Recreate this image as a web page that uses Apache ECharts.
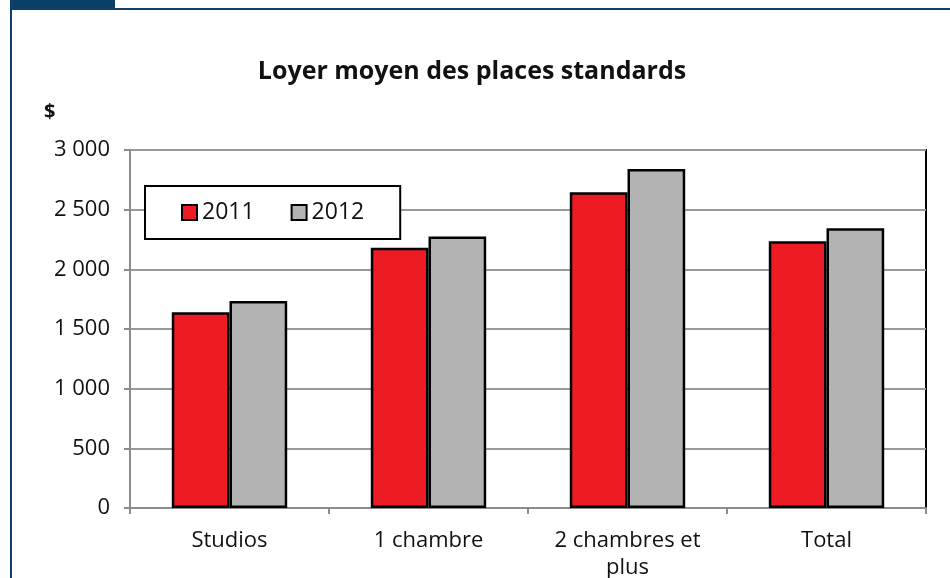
<!DOCTYPE html>
<html>
<head>
<meta charset="utf-8">
<script src="https://cdn.jsdelivr.net/npm/echarts@6/dist/echarts.min.js"></script>
<style>
  html, body { margin: 0; padding: 0; background: #fff; }
  #chart { width: 950px; height: 578px; }
</style>
</head>
<body>
<div id="chart"></div>
<script>
// données
var categories = ['Studios', '1 chambre', '2 chambres et\nplus', 'Total'];
var loyer2011 = [1640, 2180, 2645, 2235];
var loyer2012 = [1735, 2275, 2840, 2345];
var seriesNames = ['2011', '2012'];

var police = 'Open Sans';
var chart = echarts.init(document.getElementById('chart'));

chart.setOption({
  animation: false,
  backgroundColor: '#fff',
  title: {
    text: 'Loyer moyen des places standards',
    left: 467,
    textAlign: 'center',
    top: 54,
    textStyle: { fontFamily: police, fontSize: 25, fontWeight: 'bold', color: '#111' }
  },
  legend: {
    data: seriesNames,
    left: 145,
    top: 186,
    padding: [15, 36],
    itemGap: 36,
    itemWidth: 15,
    itemHeight: 15,
    icon: 'rect',
    backgroundColor: '#fff',
    borderColor: '#000',
    borderWidth: 2,
    textStyle: { fontFamily: police, fontSize: 23, color: '#111' }
  },
  grid: {
    left: 130,
    right: 24,
    top: 150,
    bottom: 70,
    outerBoundsMode: 'none',
    show: true,
    borderColor: '#000',
    borderWidth: 2
  },
  xAxis: {
    type: 'category',
    data: categories,
    axisLine: { lineStyle: { color: '#8c8c8c', width: 2 } },
    axisTick: { show: true, length: 6, lineStyle: { color: '#8c8c8c', width: 2 } },
    axisLabel: {
      fontFamily: police, fontSize: 22, color: '#111', margin: 19, lineHeight: 27
    }
  },
  yAxis: {
    type: 'value',
    min: 0,
    max: 3000,
    interval: 500,
    name: '$',
    nameLocation: 'end',
    nameGap: 28,
    nameTextStyle: {
      fontFamily: police, fontSize: 20, fontWeight: 'bold', color: '#111',
      align: 'left', padding: [0, 0, 0, -86]
    },
    axisLine: { show: true, lineStyle: { color: '#8c8c8c', width: 2 } },
    axisTick: { show: true, length: 6, lineStyle: { color: '#8c8c8c', width: 2 } },
    splitLine: { lineStyle: { color: '#999', width: 2 } },
    axisLabel: {
      fontFamily: police, fontSize: 22, color: '#111', margin: 20,
      formatter: function (v) { return String(v).replace(/\B(?=(\d{3})+(?!\d))/g, ' '); }
    }
  },
  series: [
    {
      name: seriesNames[0],
      type: 'bar',
      data: loyer2011,
      barGap: '0%',
      barCategoryGap: '42%',
      itemStyle: { color: '#ED1C24', borderColor: '#000', borderWidth: 2.5 }
    },
    {
      name: seriesNames[1],
      type: 'bar',
      data: loyer2012,
      itemStyle: { color: '#B3B3B3', borderColor: '#000', borderWidth: 2.5 }
    }
  ],
  graphic: [
    { type: 'rect', shape: { x: 10, y: 8, width: 940, height: 2 }, style: { fill: '#0B4168' }, silent: true },
    { type: 'rect', shape: { x: 10, y: 0, width: 105, height: 10 }, style: { fill: '#0B4168' }, silent: true },
    { type: 'rect', shape: { x: 10, y: 8, width: 2, height: 570 }, style: { fill: '#0B4168' }, silent: true }
  ]
});
</script>
</body>
</html>
